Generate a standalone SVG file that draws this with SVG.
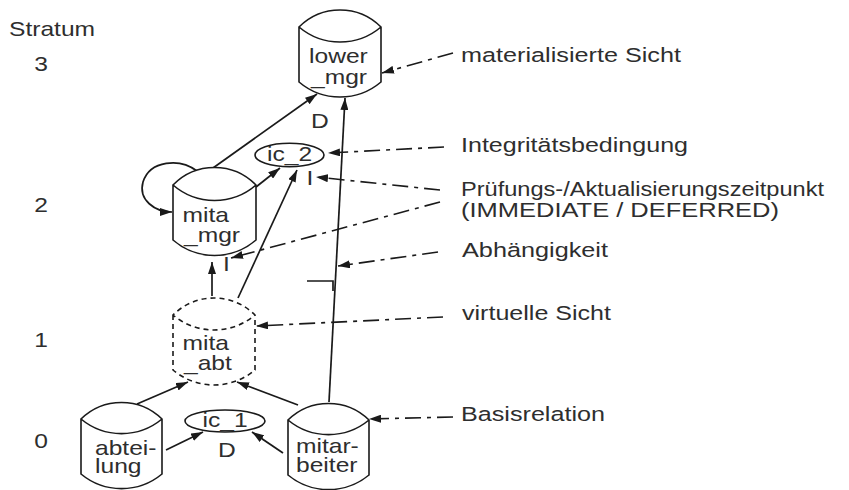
<svg xmlns="http://www.w3.org/2000/svg" width="849" height="490" viewBox="0 0 849 490">
<style>
.t{font-family:"Liberation Sans",Arial,sans-serif;font-size:20.5px;fill:#2e2e2e}
.m{text-anchor:middle}
.cyl{fill:#fff;stroke:#1a1a1a;stroke-width:1.6}
.dsh{stroke-dasharray:5 4}
.ell{fill:#fff;stroke:#1a1a1a;stroke-width:1.6}
.e{fill:none;stroke:#1a1a1a;stroke-width:1.7}
.c{fill:none;stroke:#1a1a1a;stroke-width:1.6;stroke-dasharray:16 6 4 6}
</style>
<defs>
<marker id="ah" markerUnits="userSpaceOnUse" markerWidth="13" markerHeight="8" refX="12" refY="4" orient="auto">
<path d="M0,0 L12,4 L0,8 z" fill="#1a1a1a"/>
</marker>
</defs>
<rect width="849" height="490" fill="#fff"/>
<g id="strata">
<text class="t" transform="matrix(1.2 0 0 1 9 36)">Stratum</text>
<text class="t m" transform="matrix(1.2 0 0 1 41 71)">3</text>
<text class="t m" transform="matrix(1.2 0 0 1 41 212)">2</text>
<text class="t m" transform="matrix(1.2 0 0 1 41 347)">1</text>
<text class="t m" transform="matrix(1.2 0 0 1 41 448)">0</text>
</g>
<g id="connectors">
<path class="e" d="M213 168 L317 94" marker-end="url(#ah)"/>
<path class="e" d="M256 187 L280 168" marker-end="url(#ah)"/>
<path class="e" d="M238 298 L297 170" marker-end="url(#ah)"/>
<path class="e" d="M212 296 L212 262" marker-end="url(#ah)"/>
<path class="e" d="M137 404 L188 382" marker-end="url(#ah)"/>
<path class="e" d="M298 405 L237 382" marker-end="url(#ah)"/>
<path class="e" d="M166 450 L203 432" marker-end="url(#ah)"/>
<path class="e" d="M283 453 L252 432" marker-end="url(#ah)"/>
<path class="e" d="M329 402 L345 98" marker-end="url(#ah)"/>
<path class="e" d="M197 171 C180 158 150 160 143 182 C138 200 155 212 172 212" marker-end="url(#ah)"/>
<path class="e" d="M307 281 L333 281 L333 291"/>
<path class="c" d="M453 53 L382 73" marker-end="url(#ah)"/>
<path class="c" d="M444 147 L328 153" marker-end="url(#ah)"/>
<path class="c" d="M440 190 L316 177" marker-end="url(#ah)"/>
<path class="c" d="M440 202 L231 258" marker-end="url(#ah)"/>
<path class="c" d="M438 252 L338 266" marker-end="url(#ah)"/>
<path class="c" d="M443 317 L256 326" marker-end="url(#ah)"/>
<path class="c" d="M453 417 L369 419" marker-end="url(#ah)"/>
</g>
<g id="lower_mgr">
<path class="cyl" d="M299 27 L299 82 A63.5 63.5 0 0 0 381 82 L381 27 A57.9 57.9 0 0 0 299 27 A63.5 63.5 0 0 0 381 27"/>
<text class="t" transform="matrix(1.2 0 0 1 309 63)">lower</text>
<text class="t" transform="matrix(1.2 0 0 1 311 83.5)">_mgr</text>
<text class="t m" transform="matrix(1.2 0 0 1 320 128)">D</text>
</g>
<g id="ic_2">
<ellipse class="ell" cx="289.5" cy="155" rx="34.5" ry="11.7"/>
<text class="t m" transform="matrix(1.2 0 0 1 289.5 160.5)">ic_2</text>
<text class="t m" transform="matrix(1.2 0 0 1 310 185)">I</text>
</g>
<g id="mita_mgr">
<path class="cyl" d="M173 185 L173 240 A63.5 63.5 0 0 0 256 240 L256 185 A57.9 57.9 0 0 0 173 185 A63.5 63.5 0 0 0 256 185"/>
<text class="t" transform="matrix(1.2 0 0 1 182.5 221.5)">mita</text>
<text class="t" transform="matrix(1.2 0 0 1 184 241.5)">_mgr</text>
<text class="t m" transform="matrix(1.2 0 0 1 226.5 271)">I</text>
</g>
<g id="mita_abt">
<path class="cyl dsh" d="M173 315 L173 370 A63.5 63.5 0 0 0 255 370 L255 315 A57.9 57.9 0 0 0 173 315 A63.5 63.5 0 0 0 255 315"/>
<text class="t" transform="matrix(1.2 0 0 1 182.5 350)">mita</text>
<text class="t" transform="matrix(1.2 0 0 1 184 370)">_abt</text>
</g>
<g id="abteilung">
<path class="cyl" d="M81 419 L81 474 A63.5 63.5 0 0 0 162 474 L162 419 A57.9 57.9 0 0 0 81 419 A63.5 63.5 0 0 0 162 419"/>
<text class="t" transform="matrix(1.2 0 0 1 95 455)">abtei-</text>
<text class="t" transform="matrix(1.2 0 0 1 95 473)">lung</text>
</g>
<g id="ic_1">
<ellipse class="ell" cx="225" cy="421" rx="40" ry="11"/>
<text class="t m" transform="matrix(1.2 0 0 1 225 426.5)">ic_1</text>
<text class="t m" transform="matrix(1.2 0 0 1 227 457)">D</text>
</g>
<g id="mitarbeiter">
<path class="cyl" d="M288 420 L288 475 A63.5 63.5 0 0 0 369 475 L369 420 A57.9 57.9 0 0 0 288 420 A63.5 63.5 0 0 0 369 420"/>
<text class="t" transform="matrix(1.2 0 0 1 296 453)">mitar-</text>
<text class="t" transform="matrix(1.2 0 0 1 296 472)">beiter</text>
</g>
<g id="legend">
<text class="t" x="461" y="62" textLength="220" lengthAdjust="spacingAndGlyphs">materialisierte Sicht</text>
<text class="t" x="461" y="152" textLength="227" lengthAdjust="spacingAndGlyphs">Integritätsbedingung</text>
<text class="t" x="461" y="196" textLength="363" lengthAdjust="spacingAndGlyphs">Prüfungs-/Aktualisierungszeitpunkt</text>
<text class="t" x="461" y="217" textLength="318" lengthAdjust="spacingAndGlyphs">(IMMEDIATE / DEFERRED)</text>
<text class="t" x="462" y="257" textLength="146" lengthAdjust="spacingAndGlyphs">Abhängigkeit</text>
<text class="t" x="462" y="320" textLength="149" lengthAdjust="spacingAndGlyphs">virtuelle Sicht</text>
<text class="t" x="461" y="421" textLength="144" lengthAdjust="spacingAndGlyphs">Basisrelation</text>
</g>
</svg>
